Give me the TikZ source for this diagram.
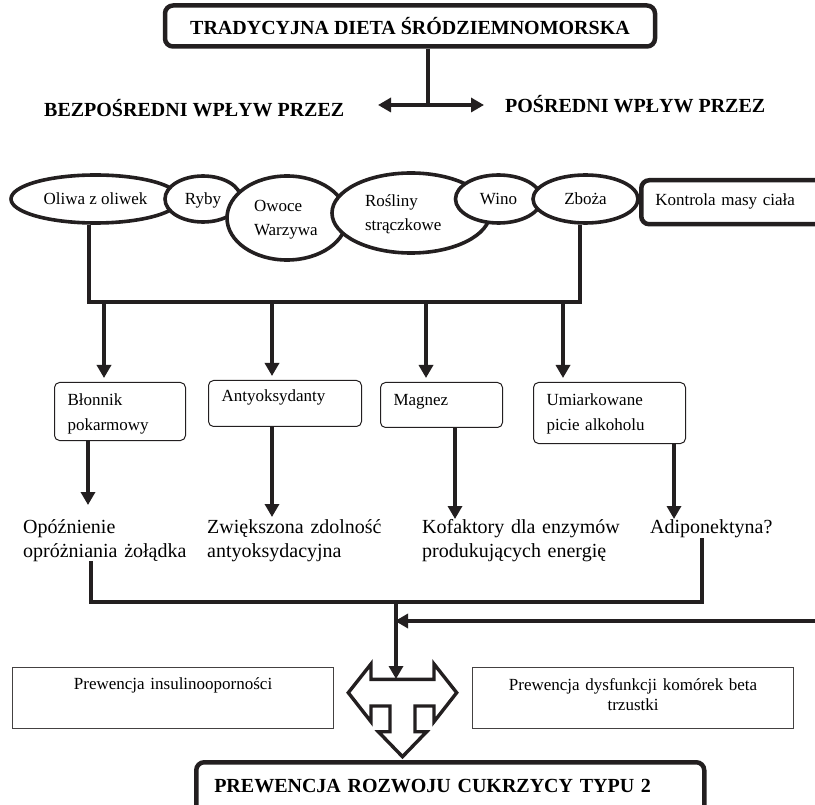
\documentclass[tikz,border=0pt]{standalone}
\usepackage{fontspec}
\setmainfont{Liberation Serif}
\usetikzlibrary{arrows.meta, shapes.geometric}
\definecolor{ink}{RGB}{35,31,32}
\tikzset{
heavy/.style={draw=ink, line width=4pt}, % the thick black connectors
arr/.style={heavy, -{Triangle[length=13pt, width=14pt]}}, % thick connector with a solid head
dblarr/.style={heavy, {Triangle[length=13pt, width=14pt]}-{Triangle[length=13pt, width=14pt]}},
oval/.style={ellipse, draw=ink, line width=3.6pt, fill=white, inner sep=0pt, text height=11.5pt, text depth=0pt, font=\fontsize{17}{24}\selectfont}, % food groups
twoline/.style={align=left, text depth=24pt}, % food groups written on two lines
frame/.style={draw=ink, line width=4.5pt, rounded corners=8pt, fill=white}, % heavy rounded boxes
head/.style={font=\bfseries\fontsize{20}{24}\selectfont}, % bold capitals
infobox/.style={draw=ink, line width=1pt, rounded corners=5pt, inner xsep=13pt, inner ysep=0pt, align=left, anchor=north west, font=\fontsize{17}{25}\selectfont}, % nutrients
sidebox/.style={draw=ink!85, line width=1.2pt, inner sep=0pt, align=center, anchor=north west, font=\fontsize{17}{20}\selectfont},
effect/.style={anchor=base west, align=left, inner sep=0pt, font=\fontsize{20}{24}\selectfont}, % plain effect texts
tshape/.style={draw=ink, line width=3.4pt, fill=white, line join=miter},
}

\begin{document}
\begin{tikzpicture}[x=1pt, y=-1pt, line join=miter]
    \useasboundingbox (0,0) rectangle (815,805);

    % Diet and the two ways it acts
    \node[frame, head, minimum width=490pt, minimum height=41pt] (dieta) at (410,26) {TRADYCYJNA DIETA ŚRÓDZIEMNOMORSKA};
    \node[head, inner sep=0pt, anchor=base west] (direct) at (44,117) {BEZPOŚREDNI WPŁYW PRZEZ};
    \node[head, inner sep=0pt, anchor=base west] (indirect) at (505,113) {POŚREDNI WPŁYW PRZEZ};
    \coordinate (split) at (428,105);
    \coordinate (tipL) at (378,105);
    \coordinate (tipR) at (484,105);
    \draw[heavy] (dieta.south -| split) -- (split);
    \draw[dblarr] (tipL) -- (tipR);

    % Food groups
    \node[oval, minimum width=169pt, minimum height=48pt] (oliwa) at (95.5,199) {Oliwa z oliwek};
    \node[oval, minimum width=76pt, minimum height=46pt] (ryby) at (203,199) {Ryby};
    \node[oval, twoline, text width=66pt, minimum width=120pt, minimum height=84pt] (owoce) at (287,218) {Owoce\\Warzywa};
    \node[oval, twoline, text width=92pt, minimum width=158pt, minimum height=80pt] (rosliny) at (411,213) {Rośliny\\strączkowe};
    \node[oval, minimum width=86pt, minimum height=48pt] (wino) at (498.5,199) {Wino};
    \node[oval, minimum width=105pt, minimum height=48pt] (zboza) at (585.5,199) {Zboża};
    \node[frame, anchor=north west, align=left, text width=170pt, inner xsep=14pt, inner ysep=0pt,
          text height=25pt, text depth=19pt, font=\fontsize{17}{21}\selectfont] (kontrola) at (639,178) {Kontrola masy ciała};

    % Nutrients
    \node[infobox, text width=105pt, text height=23pt, text depth=35pt] (blonnik) at (54,382) {Błonnik\\pokarmowy};
    \node[infobox, text width=127pt, text height=21pt, text depth=25pt] (antyoks) at (208,380) {Antyoksydanty};
    \node[infobox, text width=96pt, text height=23pt, text depth=22pt] (magnez) at (380,382) {Magnez};
    \node[infobox, text width=126pt, text height=23pt, text depth=38pt] (alkohol) at (533,382) {Umiarkowane\\picie alkoholu};

    \coordinate (barL) at (89,302);
    \coordinate (barR) at (580,302);
    \draw[heavy] (oliwa.south -| barL) -- (barL) -- (barR) -- (zboza.south -| barR);
    \coordinate (dA) at (104,302);
    \coordinate (dB) at (272,302);
    \coordinate (dC) at (426,302);
    \coordinate (dD) at (563,302);
    \foreach \d/\b in {dA/blonnik, dB/antyoks, dC/magnez, dD/alkohol}
        \draw[arr, shorten >=4pt] (\d) -- (\d |- \b.north);

    % Effects
    \node[effect, text width=175pt] (opoz) at (23,533) {Opóźnienie\\opróżniania żołądka};
    \node[effect, text width=200pt] (zwiek) at (207,533) {Zwiększona zdolność\\antyoksydacyjna};
    \node[effect, text width=215pt] (kofak) at (422,533) {Kofaktory dla enzymów\\produkujących energię};
    \node[effect, text width=150pt] (adipo) at (650,533) {Adiponektyna?};
    \coordinate (eA) at (88,505);
    \coordinate (eB) at (272,517);
    \coordinate (eC) at (455,519);
    \coordinate (eD) at (674,519);
    \draw[arr] (blonnik.south -| eA) -- (eA);
    \draw[arr] (antyoks.south -| eB) -- (eB);
    \draw[arr] (magnez.south -| eC) -- (eC);
    \draw[arr] (alkohol.south -| eD) -- (eD);

    % Gathering the effects
    \coordinate (cL) at (91,602);
    \coordinate (cR) at (702,602);
    \coordinate (cM) at (396,602);
    \coordinate (hub) at (396,679);
    \coordinate (feed) at (815,621);
    \draw[heavy] (opoz.south -| cL) -- (cL) -- (cR) -- (adipo.south -| cR);
    \draw[arr] (cM) -- (hub);
    \draw[arr, shorten >=-1pt] (feed) -- (feed -| cM);

    % Prevention
    \node[sidebox, text width=321pt, text height=22pt, text depth=39pt] (insulina) at (12,667) {Prewencja insulinooporności};
    \node[sidebox, text width=321pt, text height=23pt, text depth=38pt] (betakom) at (472,667) {Prewencja dysfunkcji komórek beta\\trzustki};
    \draw[tshape] (348.3,692.7) -- (371,664) -- (371,679.3) -- (434,679.3) -- (434,664) -- (456.7,692.7)
        -- (434,721.7) -- (434,706) -- (415,706) -- (415,731.7) -- (426.7,731.7) -- (402.5,756.7)
        -- (378.3,731.7) -- (390,731.7) -- (390,706) -- (371,706) -- (371,721.7) -- cycle;
    \node[frame, head, anchor=north west, align=left, text width=472pt, inner xsep=18pt, inner ysep=0pt,
          text height=30pt, text depth=30pt] (cukrzyca) at (194,760) {PREWENCJA ROZWOJU CUKRZYCY TYPU 2};
\end{tikzpicture}
\end{document}
